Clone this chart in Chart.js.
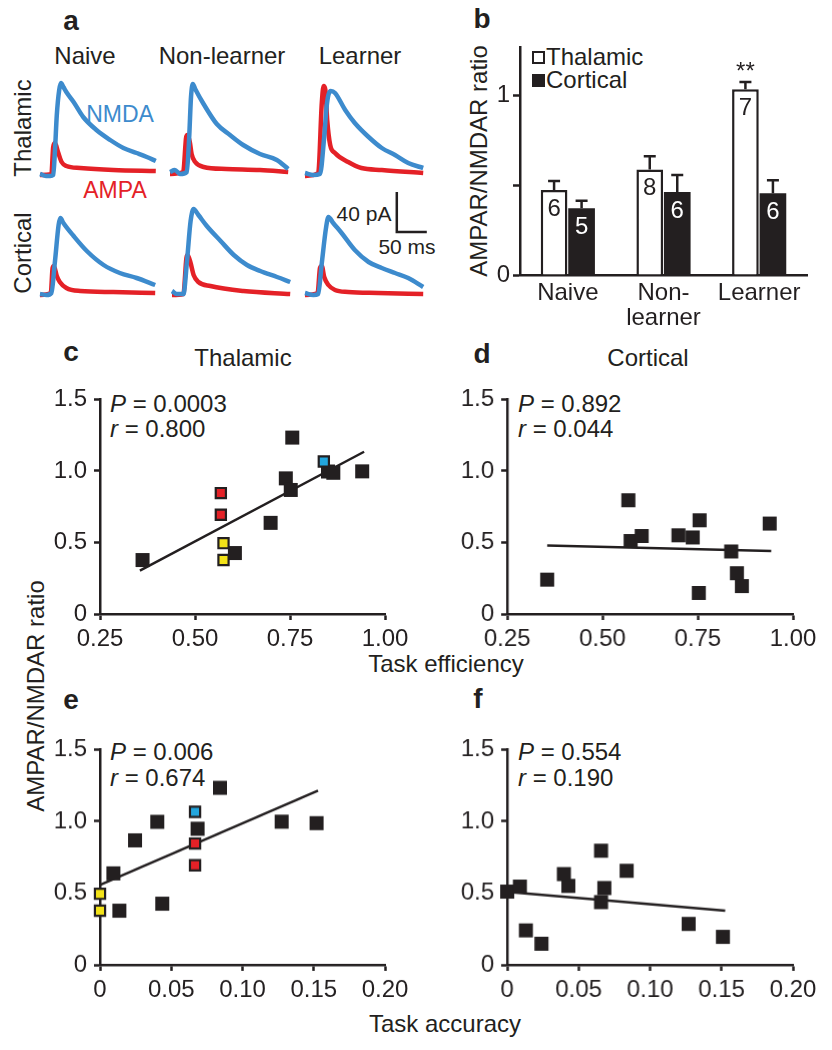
<!DOCTYPE html>
<html><head><meta charset="utf-8">
<script src="https://cdn.jsdelivr.net/npm/chart.js@4.4.1/dist/chart.umd.min.js"></script>
<style>
html,body{margin:0;padding:0;background:#fff;}
#fig{position:relative;width:832px;height:1050px;overflow:hidden;font-family:'Liberation Sans',Arial,Helvetica,sans-serif;color:#231f20;}
#fig canvas{position:absolute;}
.t{position:absolute;white-space:nowrap;transform:translate(-50%,-50%);font-size:24px;line-height:1;}
.l{position:absolute;white-space:nowrap;transform:translate(0,-50%);font-size:24px;line-height:1;}
.v{position:absolute;white-space:nowrap;transform:translate(-50%,-50%) rotate(-90deg);font-size:24px;line-height:1;}
.p{font-weight:bold;font-size:28px;}
.sq{position:absolute;width:9px;height:9px;border:2px solid #231f20;}
</style></head>
<body>
<div id="fig">
  <div class="t p" style="left:71px;top:21px">a</div>
  <div class="t" style="left:85px;top:56px">Naive</div>
  <div class="t" style="left:222px;top:56px">Non-learner</div>
  <div class="t" style="left:360px;top:56px">Learner</div>
  <div class="v" style="left:23px;top:128px">Thalamic</div>
  <div class="v" style="left:23px;top:253px">Cortical</div>
  <div class="t" style="left:120px;top:114px;color:#3d8bcd;font-size:23px">NMDA</div>
  <div class="t" style="left:115px;top:190px;color:#e42127;font-size:23px">AMPA</div>
  <div class="t" style="left:364px;top:213px;font-size:21px">40 pA</div>
  <div class="t" style="left:407px;top:246px;font-size:21px">50 ms</div>

  <div class="t p" style="left:482px;top:19px">b</div>
  <div class="v" style="left:479px;top:161px">AMPAR/NMDAR ratio</div>
  <div class="sq" style="left:532px;top:51px;background:#fff"></div>
  <div class="l" style="left:546px;top:57px">Thalamic</div>
  <div class="sq" style="left:532px;top:74px;background:#231f20"></div>
  <div class="l" style="left:546px;top:80px">Cortical</div>

  <div class="t p" style="left:71px;top:352px">c</div>
  <div class="t" style="left:243px;top:358px">Thalamic</div>
  <div class="t p" style="left:482px;top:354px">d</div>
  <div class="t" style="left:648px;top:358px">Cortical</div>
  <div class="l" style="left:110px;top:404px"><i>P</i> = 0.0003</div>
  <div class="l" style="left:110px;top:429px"><i>r</i> = 0.800</div>
  <div class="l" style="left:518px;top:404px"><i>P</i> = 0.892</div>
  <div class="l" style="left:518px;top:429px"><i>r</i> = 0.044</div>
  <div class="t" style="left:446px;top:664px">Task efficiency</div>
  <div class="v" style="left:36px;top:696px">AMPAR/NMDAR ratio</div>

  <div class="t p" style="left:71px;top:700px">e</div>
  <div class="t p" style="left:478px;top:699px">f</div>
  <div class="l" style="left:110px;top:752px"><i>P</i> = 0.006</div>
  <div class="l" style="left:110px;top:778px"><i>r</i> = 0.674</div>
  <div class="l" style="left:518px;top:752px"><i>P</i> = 0.554</div>
  <div class="l" style="left:518px;top:778px"><i>r</i> = 0.190</div>
  <div class="t" style="left:445px;top:1024px">Task accuracy</div>
</div>
<script>
// ---------- Panel a: traces (time in ms, current in pA) ----------
const naiveThalNmda = [[0,1],[10,-1],[17,-1],[22,0],[25,25],[28,60],[32,85],[35,92],[39,88],[45,82],[56,73],[72,58],[94,45],[117,35],[139,27],[161,22],[178,18],[193,14]];
const naiveThalAmpa = [[0,0],[19,1],[22,28],[25,32],[30,23],[36,13],[44,9],[67,7],[122,5],[193,4]];
const nlThalNmda = [[0,0],[8,2],[17,-2],[28,0],[32,35],[35,75],[38,88],[42,83],[56,68],[78,48],[100,37],[122,27],[150,18],[178,12],[197,3]];
const nlThalAmpa = [[0,-2],[22,0],[27,35],[29,37],[33,30],[36,18],[42,10],[56,5],[94,3],[150,2],[197,0]];
const lThalNmda = [[0,2],[14,0],[25,1],[32,38],[36,68],[39,80],[43,84],[50,82],[67,65],[83,52],[106,38],[128,27],[150,20],[172,12],[197,7]];
const lThalAmpa = [[0,-1],[22,2],[28,72],[31,89],[34,85],[37,55],[42,30],[50,22],[72,13],[94,7],[128,5],[197,2]];
const naiveCortNmda = [[0,0],[11,-1],[19,1],[25,33],[31,69],[34,76],[39,71],[56,58],[78,43],[106,29],[133,21],[161,16],[192,9]];
const naiveCortAmpa = [[0,-1],[18,1],[21,26],[23,28],[28,18],[33,12],[44,6],[67,3],[122,2],[192,1]];
const nlCortNmda = [[0,2],[8,-1],[19,-1],[25,32],[31,72],[36,84],[44,78],[58,67],[81,52],[103,38],[125,28],[147,22],[175,16],[197,11]];
const nlCortAmpa = [[0,-2],[19,-1],[24,35],[26,38],[31,30],[36,18],[44,11],[64,7],[119,2],[197,-1]];
const lCortNmda = [[0,1],[14,-1],[22,0],[28,31],[35,66],[39,77],[47,71],[61,61],[83,44],[106,32],[128,26],[150,21],[172,16],[197,7]];
const lCortAmpa = [[0,-1],[21,1],[25,26],[28,28],[32,17],[39,9],[50,4],[72,2],[122,1],[197,0]];
const scaleBarPA = 40, scaleBarMs = 50;

// ---------- Panel b ----------
const groupLabels = ['Naive', ['Non-', 'learner'], 'Learner'];
const thalMean = [0.473, 0.587, 1.033];
const thalSem = [0.050, 0.073, 0.040];
const cortMean = [0.371, 0.462, 0.455];
const cortSem = [0.042, 0.094, 0.072];
const thalN = [6, 8, 7];
const cortN = [5, 6, 6];
const thalSig = ['', '', '**'];
const ratioBarTicks = [0, 0.5, 1];
const ratioBarTickLabels = ['0', '', '1'];

// ---------- Panels c-f ----------
const thalEff   = [0.362, 0.605, 0.699, 0.739, 0.752, 0.756, 0.850, 0.864, 0.940, 0.568, 0.568, 0.575, 0.575, 0.839];
const thalAcc   = [0.0136, 0.0437, 0.0094, 0.0685, 0.0246, 0.0842, 0.0402, 0.152, 0.1275, 0.0667, 0.0667, 0.0, 0.0, 0.0667];
const thalRatio = [0.377, 0.426, 0.637, 0.948, 0.867, 1.233, 0.996, 0.987, 0.997, 0.845, 0.694, 0.495, 0.377, 1.066];
const thalGroup = ['k','k','k','k','k','k','k','k','k','red','red','yellow','yellow','cyan'];
const cortEff   = [0.355, 0.568, 0.574, 0.603, 0.6995, 0.737, 0.755, 0.753, 0.838, 0.853, 0.866, 0.939];
const cortAcc   = [0.0131, 0.0657, 0.0, 0.0089, 0.0428, 0.068, 0.0836, 0.024, 0.0657, 0.127, 0.151, 0.0397];
const cortRatio = [0.240, 0.795, 0.510, 0.545, 0.550, 0.535, 0.655, 0.147, 0.437, 0.285, 0.195, 0.632];
const fitThalEff = [[0.355, 0.303], [0.945, 1.134]];
const fitCortEff = [[0.355, 0.479], [0.943, 0.440]];
const fitThalAcc = [[0.0, 0.557], [0.153, 1.214]];
const fitCortAcc = [[0.0, 0.508], [0.1526, 0.377]];
const effTicks = [0.25, 0.5, 0.75, 1.0];
const effTickLabels = ['0.25', '0.50', '0.75', '1.00'];
const accTicks = [0, 0.05, 0.10, 0.15, 0.20];
const accTickLabels = ['0', '0.05', '0.10', '0.15', '0.20'];
const ratioTicks = [0, 0.5, 1.0, 1.5];
const ratioTickLabels = ['0', '0.5', '1.0', '1.5'];

const INK = '#231f20';
const BLUE = '#3d8bcd', RED = '#e42127';
const markColors = {red: '#e42127', yellow: '#f3e319', cyan: '#22a6de'};
Chart.defaults.font.family = "'Liberation Sans', Arial, Helvetica, sans-serif";
Chart.defaults.color = INK;
Chart.defaults.animation = false;

const fig = document.getElementById('fig');
function addCanvas(left, top, w, h) {
  const c = document.createElement('canvas');
  c.width = w; c.height = h;
  c.style.left = left + 'px'; c.style.top = top + 'px';
  c.style.width = w + 'px'; c.style.height = h + 'px';
  fig.appendChild(c);
  return c.getContext('2d');
}
const toXY = arr => arr.map(p => ({x: p[0], y: p[1]}));

// ----- traces -----
const tracePanels = [
  {nmda: naiveThalNmda, ampa: naiveThalAmpa, x: 40, base: 175},
  {nmda: nlThalNmda, ampa: nlThalAmpa, x: 170, base: 171.7},
  {nmda: lThalNmda, ampa: lThalAmpa, x: 305, base: 175},
  {nmda: naiveCortNmda, ampa: naiveCortAmpa, x: 40, base: 294.3},
  {nmda: nlCortNmda, ampa: nlCortAmpa, x: 171.7, base: 293.3},
  {nmda: lCortNmda, ampa: lCortAmpa, x: 305, base: 294, scaleBar: {t: 153, a: 62}}
];
const PAD = 6;
tracePanels.forEach(tp => {
  const ctx = addCanvas(tp.x - PAD, tp.base - 100 - PAD, 120 + 2 * PAD, 110 + 2 * PAD);
  const plugins = [];
  if (tp.scaleBar) {
    plugins.push({
      id: 'scalebar',
      afterDatasetsDraw(chart) {
        const xs = chart.scales.x, ys = chart.scales.y, c = chart.ctx;
        const x0 = xs.getPixelForValue(tp.scaleBar.t), y0 = ys.getPixelForValue(tp.scaleBar.a);
        const y1 = ys.getPixelForValue(tp.scaleBar.a + scaleBarPA);
        const x1 = xs.getPixelForValue(tp.scaleBar.t + scaleBarMs);
        c.save(); c.strokeStyle = INK; c.lineWidth = 2.5; c.lineCap = 'butt';
        c.beginPath(); c.moveTo(x0, y1); c.lineTo(x0, y0); c.lineTo(x1, y0); c.stroke(); c.restore();
      }
    });
  }
  new Chart(ctx, {
    type: 'line',
    data: {datasets: [
      {data: toXY(tp.nmda), borderColor: BLUE, borderWidth: 4.5, pointRadius: 0, cubicInterpolationMode: 'monotone', clip: false},
      {data: toXY(tp.ampa), borderColor: RED, borderWidth: 4.5, pointRadius: 0, cubicInterpolationMode: 'monotone', clip: false}
    ]},
    options: {
      responsive: false, devicePixelRatio: 1,
      layout: {padding: PAD},
      plugins: {legend: {display: false}, tooltip: {enabled: false}},
      scales: {
        x: {type: 'linear', min: 0, max: 200, display: false},
        y: {type: 'linear', min: -10, max: 100, display: false}
      }
    },
    plugins
  });
});

// ----- bar chart b -----
const barPlugin = {
  id: 'errbars',
  afterDatasetsDraw(chart) {
    const c = chart.ctx, ys = chart.scales.y;
    const sets = [{mean: thalMean, sem: thalSem, n: thalN, txt: INK, sig: thalSig}, {mean: cortMean, sem: cortSem, n: cortN, txt: '#fff', sig: null}];
    sets.forEach((s, d) => {
      const meta = chart.getDatasetMeta(d);
      meta.data.forEach((el, i) => {
        const yTop = ys.getPixelForValue(s.mean[i]);
        const yErr = ys.getPixelForValue(s.mean[i] + s.sem[i]);
        c.save(); c.strokeStyle = INK; c.lineWidth = 2.5;
        c.beginPath(); c.moveTo(el.x, yTop); c.lineTo(el.x, yErr);
        c.moveTo(el.x - 6, yErr); c.lineTo(el.x + 6, yErr); c.stroke();
        c.fillStyle = s.txt; c.font = "24px 'Liberation Sans', Arial, sans-serif";
        c.textAlign = 'center'; c.textBaseline = 'middle';
        c.fillText(String(s.n[i]), el.x, yTop + 19);
        if (s.sig && s.sig[i]) {
          c.fillStyle = INK; c.textBaseline = 'alphabetic';
          c.fillText(s.sig[i], el.x, yErr - 3);
        }
        c.restore();
      });
    });
  }
};
new Chart(addCanvas(470, 30, 350, 310), {
  type: 'bar',
  data: {labels: groupLabels, datasets: [
    {label: 'Thalamic', data: thalMean, backgroundColor: '#fff', borderColor: INK, borderWidth: 2.5, categoryPercentage: 0.575, barPercentage: 0.97},
    {label: 'Cortical', data: cortMean, backgroundColor: INK, borderWidth: 0, categoryPercentage: 0.575, barPercentage: 0.97}
  ]},
  options: {
    responsive: false, devicePixelRatio: 1,
    layout: {padding: {top: 15, right: 13, left: 0, bottom: 0}},
    plugins: {legend: {display: false}, tooltip: {enabled: false}},
    scales: {
      x: {
        grid: {display: false, drawTicks: false},
        border: {display: true, width: 2.5, color: INK},
        ticks: {padding: 6, font: {size: 24, lineHeight: 1.05}, color: INK, maxRotation: 0},
        afterFit: s => { s.height = 65; }
      },
      y: {
        min: 0, max: 1.266,
        afterBuildTicks: s => { s.ticks = ratioBarTicks.map(v => ({value: v})); },
        grid: {drawOnChartArea: false, drawTicks: true, tickLength: 7, tickWidth: 2.5, tickColor: INK},
        border: {display: true, width: 2.5, color: INK},
        ticks: {padding: 3, font: {size: 24}, color: INK, callback: (v, i) => ratioBarTickLabels[i]},
        afterFit: s => { s.width = 50; }
      }
    }
  },
  plugins: [barPlugin]
});

// ----- scatter panels -----
function scatterPanel(area, xs, ratio, groups, fit, xMin, xMax, xTicks, xTickLabels) {
  const W = area.right - area.left, H = area.bottom - area.top;
  const ctx = addCanvas(area.left - 70, area.top - 15, W + 70 + 35, H + 15 + 45);
  const black = [], colored = [], colBg = [];
  xs.forEach((x, i) => {
    if (groups[i] === 'k') black.push({x, y: ratio[i]});
    else { colored.push({x, y: ratio[i]}); colBg.push(markColors[groups[i]]); }
  });
  new Chart(ctx, {
    type: 'scatter',
    data: {datasets: [
      {data: colored, pointStyle: 'rect', pointRadius: 7.2, backgroundColor: colBg, borderColor: INK, borderWidth: 2.2, order: 1, clip: false},
      {data: black, pointStyle: 'rect', pointRadius: 9.9, backgroundColor: INK, borderWidth: 0, order: 2, clip: false},
      {type: 'line', data: toXY(fit), borderColor: INK, borderWidth: 2.5, pointRadius: 0, order: 3, clip: false}
    ]},
    options: {
      responsive: false, devicePixelRatio: 1,
      layout: {padding: {top: 15, right: 35, left: 0, bottom: 0}},
      plugins: {legend: {display: false}, tooltip: {enabled: false}},
      scales: {
        x: {
          type: 'linear', min: xMin, max: xMax,
          afterBuildTicks: s => { s.ticks = xTicks.map(v => ({value: v})); },
          grid: {drawOnChartArea: false, drawTicks: true, tickLength: 6, tickWidth: 2.5, tickColor: INK},
          border: {display: true, width: 2.5, color: INK},
          ticks: {padding: 5, font: {size: 24}, color: INK, maxRotation: 0, autoSkip: false, callback: (v, i) => xTickLabels[i]},
          afterFit: s => { s.height = 45; }
        },
        y: {
          type: 'linear', min: 0, max: 1.5,
          afterBuildTicks: s => { s.ticks = ratioTicks.map(v => ({value: v})); },
          grid: {drawOnChartArea: false, drawTicks: true, tickLength: 6, tickWidth: 2.5, tickColor: INK},
          border: {display: true, width: 2.5, color: INK},
          ticks: {padding: 7, font: {size: 24}, color: INK, autoSkip: false, callback: (v, i) => ratioTickLabels[i]},
          afterFit: s => { s.width = 70; }
        }
      }
    }
  });
}
const cortGroup = cortEff.map(() => 'k');
scatterPanel({left: 100, right: 385, top: 392.7, bottom: 614}, thalEff, thalRatio, thalGroup, fitThalEff, 0.25, 1.0, effTicks, effTickLabels);
scatterPanel({left: 507.3, right: 792.7, top: 392.7, bottom: 614}, cortEff, cortRatio, cortGroup, fitCortEff, 0.25, 1.0, effTicks, effTickLabels);
scatterPanel({left: 100, right: 385, top: 743.3, bottom: 965}, thalAcc, thalRatio, thalGroup, fitThalAcc, 0, 0.2, accTicks, accTickLabels);
scatterPanel({left: 507.3, right: 792.7, top: 743.3, bottom: 965}, cortAcc, cortRatio, cortGroup, fitCortAcc, 0, 0.2, accTicks, accTickLabels);
</script>
</body></html>
